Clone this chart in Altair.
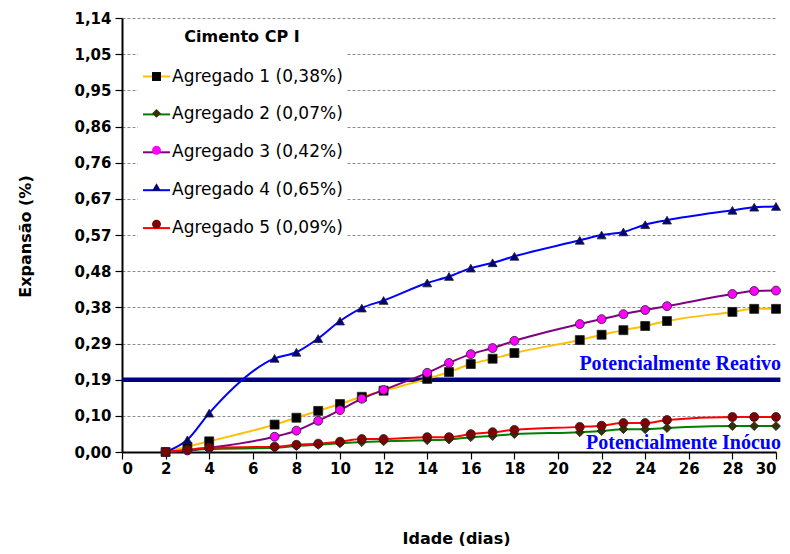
import altair as alt
import pandas as pd

# ---- data ----
ages = [2, 3, 4, 7, 8, 9, 10, 11, 12, 14, 15, 16, 17, 18, 21, 22, 23, 24, 25, 28, 29, 30]
series_names = [
    "Agregado 1 (0,38%)",
    "Agregado 2 (0,07%)",
    "Agregado 3 (0,42%)",
    "Agregado 4 (0,65%)",
    "Agregado 5 (0,09%)",
]
ag1 = [0.0, 0.014, 0.028, 0.072, 0.090, 0.108, 0.126, 0.145, 0.161, 0.192, 0.210, 0.231, 0.245,
       0.260, 0.294, 0.308, 0.320, 0.331, 0.344, 0.368, 0.376, 0.376]
ag2 = [0.0, 0.004, 0.008, 0.011, 0.016, 0.019, 0.023, 0.026, 0.028, 0.031, 0.033, 0.039, 0.042,
       0.047, 0.052, 0.055, 0.060, 0.060, 0.063, 0.068, 0.068, 0.068]
ag3 = [0.0, 0.004, 0.011, 0.040, 0.056, 0.082, 0.110, 0.140, 0.163, 0.208, 0.234, 0.257, 0.273,
       0.292, 0.336, 0.349, 0.362, 0.373, 0.383, 0.415, 0.423, 0.424]
ag4 = [0.0, 0.032, 0.102, 0.246, 0.262, 0.298, 0.344, 0.378, 0.398, 0.444, 0.461, 0.483, 0.497,
       0.514, 0.556, 0.570, 0.578, 0.597, 0.609, 0.635, 0.643, 0.645]
ag5 = [0.0, 0.006, 0.011, 0.014, 0.019, 0.022, 0.027, 0.034, 0.034, 0.039, 0.039, 0.047, 0.052,
       0.058, 0.066, 0.069, 0.076, 0.076, 0.084, 0.092, 0.092, 0.092]

line_colors = ["#FFC000", "#008000", "#800080", "#0000FF", "#FF0000"]
marker_fills = ["#000000", "#333300", "#FF00FF", "#000080", "#800000"]
marker_shapes = ["square", "diamond", "circle", "triangle-up", "circle"]

y_tick_values = [0.0, 0.095, 0.19, 0.285, 0.38, 0.475, 0.57, 0.665, 0.76, 0.855, 0.95, 1.045, 1.14]
y_tick_labels = ["0,00", "0,10", "0,19", "0,29", "0,38", "0,48", "0,57", "0,67", "0,76",
                 "0,86", "0,95", "1,05", "1,14"]
x_tick_values = [0, 2, 4, 6, 8, 10, 12, 14, 16, 18, 20, 22, 24, 26, 28, 30]

threshold = 0.19
annot_texts = ["Potencialmente Reativo", "Potencialmente Inócuo"]
annot_y = [0.231, 0.024]
annot_x = [30, 30]

# ---- build table ----
rows = []
for name, vals in zip(series_names, [ag1, ag2, ag3, ag4, ag5]):
    for a, v in zip(ages, vals):
        rows.append({"idade": a, "exp": v, "serie": name, "marker": name})
df = pd.DataFrame(rows)

label_expr = "[" + ",".join("'%s'" % l for l in y_tick_labels) + "][round(datum.value/0.095)]"

SANS = "DejaVu Sans"

x_enc = alt.X(
    "idade:Q",
    scale=alt.Scale(domain=[0, 30], nice=False, zero=False),
    axis=alt.Axis(
        values=x_tick_values, title="Idade (dias)", grid=False,
        labelFont=SANS, labelFontSize=15, labelFontWeight="bold", labelColor="black",
        labelPadding=2, tickColor="black", tickSize=7, tickWidth=1.2,
        domainColor="black", domainWidth=2,
        titleFont=SANS, titleFontSize=16, titleFontWeight="bold", titleColor="black",
        titleX=334, titleY=86, titleAlign="center", titleBaseline="middle",
    ),
)
y_enc = alt.Y(
    "exp:Q",
    scale=alt.Scale(domain=[0, 1.14], nice=False),
    axis=alt.Axis(
        values=y_tick_values, labelExpr=label_expr, title="Expansão (%)",
        grid=True, gridColor="#8c8c8c", gridDash=[3, 2], gridWidth=1,
        labelFont=SANS, labelFontSize=15, labelFontWeight="bold", labelColor="black",
        labelPadding=4, tickColor="black", tickSize=7, tickWidth=1.2,
        domainColor="black", domainWidth=2,
        titleFont=SANS, titleFontSize=16, titleFontWeight="bold", titleColor="black",
        titleX=-97, titleY=218, titleAlign="center", titleBaseline="middle", titleAngle=-90,
    ),
)

# threshold rule
rule_df = pd.DataFrame({"idade": [0], "idade2": [30.2], "exp": [threshold]})
rule = alt.Chart(rule_df).mark_rule(color="#000080", strokeWidth=4.5).encode(
    x=x_enc, x2="idade2:Q", y=y_enc
)

# annotations
ann_df = pd.DataFrame({"idade": annot_x, "exp": annot_y, "txt": annot_texts})
ann = alt.Chart(ann_df).mark_text(
    align="right", baseline="middle", dx=5, font="Liberation Serif",
    fontSize=20, fontWeight="bold", color="#0000FF"
).encode(x=x_enc, y=y_enc, text="txt:N")

common_legend = dict(
    orient="none", legendX=16, legendY=7, padding=4,
    titleFont=SANS, titleFontSize=16, titleFontWeight="bold",
    titleColor="black", titleAnchor="middle", titlePadding=17,
    labelLimit=400, labelFont=SANS,
)

# line legend (drawn first, with the white box and visible labels)
lines = alt.Chart(df).mark_line(interpolate="monotone", strokeWidth=2).encode(
    x=x_enc, y=y_enc,
    color=alt.Color(
        "serie:N",
        scale=alt.Scale(range=line_colors),
        legend=alt.Legend(
            title="Cimento CP I",
            symbolType="stroke", symbolSize=729, symbolStrokeWidth=2,
            symbolOffset=0, labelColor="black", labelOffset=1, labelFontSize=17,
            rowPadding=14.9, fillColor="white", **common_legend,
        ),
    ),
)

# marker legend (overlaid on the line legend, no label text)
pt_legend = alt.Legend(
    title=" ",
    symbolSize=80, symbolStrokeWidth=0.8, symbolStrokeColor="#222222", symbolOffset=0,
    labelExpr="' '", labelFontSize=29, labelOffset=1, rowPadding=6.9,
    **common_legend,
)
points = alt.Chart(df).mark_point(
    filled=True, size=80, stroke="#222222", strokeWidth=0.8, opacity=1
).encode(
    x=x_enc, y=y_enc,
    fill=alt.Fill("marker:N", scale=alt.Scale(range=marker_fills), legend=pt_legend),
    shape=alt.Shape("marker:N", scale=alt.Scale(range=marker_shapes), legend=pt_legend),
)

chart = alt.layer(rule, lines, points, ann).properties(
    width=654, height=434,
    autosize=alt.AutoSizeParams(type="none"),
    padding={"left": 114, "top": 10, "right": 6, "bottom": 94},
).configure_view(stroke=None)

chart.save("out.html", embed_options={"renderer": "svg", "actions": False})
